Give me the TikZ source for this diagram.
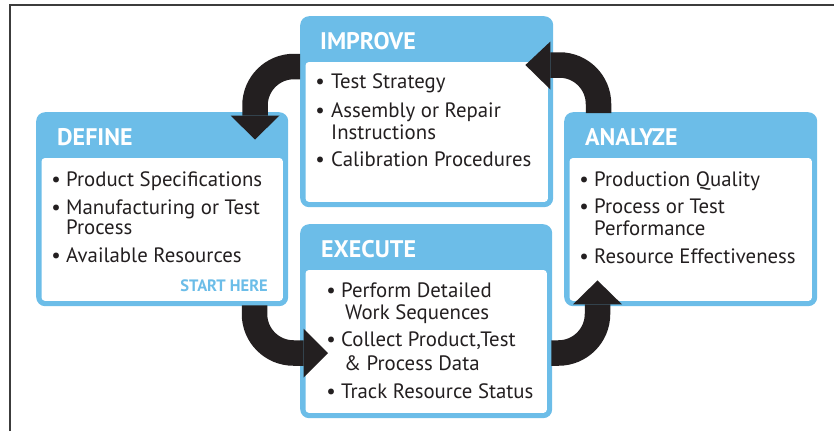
\documentclass[tikz,border=0pt]{standalone}
\usepackage{fontspec}
\setmainfont{PT Sans}
\usetikzlibrary{calc}
\definecolor{skyblue}{HTML}{6CBDE8}
\definecolor{ink}{HTML}{231F20}
\definecolor{framegray}{HTML}{3C3C3C}
\begin{document}
\begin{tikzpicture}[x=1pt,y=-1pt,
  panel/.style={anchor=north west, fill=skyblue, draw=none, rounded corners=9pt,
    inner sep=0pt, minimum width=#1},
  title/.style={anchor=base west, inner sep=0pt, text=white,
    font=\fontsize{24}{24}\selectfont\bfseries},
  itemtext/.style={anchor=base west, inner sep=0pt, text=ink,
    font=\fontsize{20.8}{20.8}\selectfont},
  dot/.style={anchor=base, inner sep=0pt, text=ink,
    font=\fontsize{21}{21}\selectfont},
  starttext/.style={anchor=base east, inner sep=0pt, text=skyblue,
    font=\fontsize{16.5}{16.5}\selectfont\bfseries},
  shaft/.style={draw=ink, line width=25.5pt, rounded corners=39pt},
  tipfill/.style={fill=ink, draw=none}
]
\useasboundingbox (0,0) rectangle (834,431);

% partial outer frame
\draw[framegray, line width=1.2pt] (10,431) -- (10,5) -- (834,5);

% panels: blue frame with a white body under a 46pt header band
\node[panel=252pt, minimum height=194pt] (define)  at (36,112)  {};
\node[panel=253pt, minimum height=191pt] (improve) at (300,16)  {};
\node[panel=252pt, minimum height=194pt] (execute) at (300,224) {};
\node[panel=253pt, minimum height=194pt] (analyze) at (564,112) {};
\foreach \p in {define,improve,execute,analyze}{
  \fill[white, rounded corners=3.5pt]
    ($(\p.south west)+(5.5,-5.5)$) rectangle ($(\p.north east)+(-5.5,46)$);
}

% curved connectors
\coordinate (h1) at ([xshift=219pt,yshift=-3.5pt]define.north west);
\coordinate (h2) at ([xshift=-3pt,yshift=-49pt]improve.north east);
\coordinate (h3) at ([xshift=3.5pt,yshift=-129pt]execute.north west);
\coordinate (h4) at ([xshift=33.5pt,yshift=2pt]analyze.south west);

\draw[shaft] ([yshift=-50.5pt]improve.north west) -| (h1);
\fill[tipfill] ($(h1)+(-24.5,0)$) -- ($(h1)+(24.5,0)$) -- ($(h1)+(0,24)$) -- cycle;

\draw[shaft] ([xshift=34.5pt,yshift=-1pt]analyze.north west) |- (h2);
\fill[tipfill] ($(h2)+(0,-23.5)$) -- ($(h2)+(0,24.5)$) -- ($(h2)+(-25,0)$) -- cycle;

\draw[shaft] ([xshift=218.5pt,yshift=1pt]define.south west) |- (h3);
\fill[tipfill] ($(h3)+(0,-24.5)$) -- ($(h3)+(0,24.5)$) -- ($(h3)+(24.5,0)$) -- cycle;

\draw[shaft] ([xshift=-1pt,yshift=-129pt]execute.north east) -| (h4);
\fill[tipfill] ($(h4)+(-24.5,0)$) -- ($(h4)+(24.5,0)$) -- ($(h4)+(0,-24)$) -- cycle;

% titles
\node[title] (tDefine)  at (57,145)  {DEFINE};
\node[title] (tImprove) at (320,49)  {IMPROVE};
\node[title] (tExecute) at (321,257) {EXECUTE};
\node[title] (tAnalyze) at (585,145) {ANALYZE};

% DEFINE items
\node[dot] (d1b) at (56,186) {\textbullet};
\node[itemtext] (d1) at (66,186) {Product Specifications};
\node[dot] (d2b) at (56,214) {\textbullet};
\node[itemtext] (d2) at (66,214) {Manufacturing or Test};
\node[itemtext] (d2c) at (66,234) {Process};
\node[dot] (d3b) at (56,262) {\textbullet};
\node[itemtext] (d3) at (66,262) {Available Resources};
\node[starttext] (start) at (268,291) {START HERE};

% IMPROVE items
\node[dot] (i1b) at (320,88) {\textbullet};
\node[itemtext] (i1) at (331,88) {Test Strategy};
\node[dot] (i2b) at (320,117) {\textbullet};
\node[itemtext] (i2) at (331,117) {Assembly or Repair};
\node[itemtext] (i2c) at (331,139) {Instructions};
\node[dot] (i3b) at (320,166) {\textbullet};
\node[itemtext] (i3) at (331,166) {Calibration Procedures};

% EXECUTE items
\node[dot] (e1b) at (331,297) {\textbullet};
\node[itemtext] (e1) at (341,297) {Perform Detailed};
\node[itemtext] (e1c) at (345,319) {Work Sequences};
\node[dot] (e2b) at (331,346) {\textbullet};
\node[itemtext] (e2) at (341,346) {Collect Product,Test};
\node[itemtext] (e2c) at (344,370) {\& Process Data};
\node[dot] (e3b) at (331,398) {\textbullet};
\node[itemtext] (e3) at (341,398) {Track Resource Status};

% ANALYZE items
\node[dot] (a1b) at (584,186) {\textbullet};
\node[itemtext] (a1) at (594,186) {Production Quality};
\node[dot] (a2b) at (584,213) {\textbullet};
\node[itemtext] (a2) at (594,213) {Process or Test};
\node[itemtext] (a2c) at (594,235) {Performance};
\node[dot] (a3b) at (584,263) {\textbullet};
\node[itemtext] (a3) at (594,263) {Resource Effectiveness};
\end{tikzpicture}
\end{document}
